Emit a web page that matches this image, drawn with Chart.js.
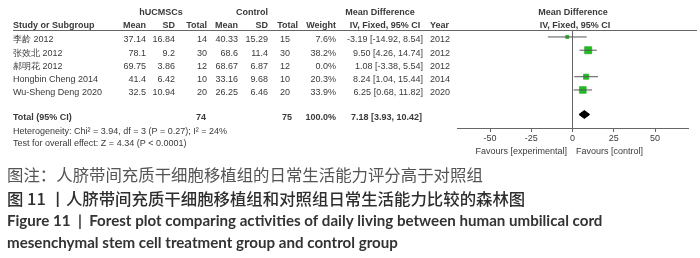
<!DOCTYPE html>
<html>
<head>
<meta charset="utf-8">
<script src="https://cdn.jsdelivr.net/npm/chart.js@4.4.0/dist/chart.umd.min.js"></script>
<style>
  html, body { margin: 0; padding: 0; background: #fff; }
  canvas { display: block; }
</style>
</head>
<body>
<canvas id="forest" width="700" height="258"></canvas>
<script>
// study rows
const studies = ['李龄 2012', '张效北 2012', '郝明花 2012', 'Hongbin Cheng 2014', 'Wu-Sheng Deng 2020'];
const expMean = [37.14, 78.1, 69.75, 41.4, 32.5];
const expSD = [16.84, 9.2, 3.86, 6.42, 10.94];
const expN = [14, 30, 12, 10, 20];
const ctlMean = [40.33, 68.6, 68.67, 33.16, 26.25];
const ctlSD = [15.29, 11.4, 6.87, 9.68, 6.46];
const ctlN = [15, 30, 12, 10, 20];
const weights = [7.6, 38.2, 0.0, 20.3, 33.9];
const meanDiff = [-3.19, 9.50, 1.08, 8.24, 6.25];
const ciLow = [-14.92, 4.26, -3.38, 1.04, 0.68];
const ciHigh = [8.54, 14.74, 5.54, 15.44, 11.82];
const years = [2012, 2012, 2012, 2014, 2020];

// pooled result
const totalExpN = 74;
const totalCtlN = 75;
const totalMD = 7.18;
const totalLow = 3.93;
const totalHigh = 10.42;

const xTicks = [-50, -25, 0, 25, 50];

const TOTAL_ROW = 5.85;
const DIAMOND_H = 0.3;
const GREEN = '#1fbf1f';
const INK = '#3a3a3a';

// CI whiskers and squares, skipping rows with zero weight
const datasets = [];
studies.forEach((s, i) => {
  if (weights[i] <= 0) return;
  datasets.push({
    type: 'line',
    data: [{x: ciLow[i], y: i}, {x: ciHigh[i], y: i}],
    borderColor: '#555',
    borderWidth: 1,
    pointRadius: 0,
    fill: false
  });
});
datasets.push({
  type: 'scatter',
  data: studies.map((s, i) => weights[i] > 0 ? {x: meanDiff[i], y: i} : null).filter(p => p),
  pointStyle: 'rect',
  pointRadius: weights.filter(w => w > 0).map(w => 0.82 * Math.sqrt(w)),
  backgroundColor: GREEN,
  borderColor: '#129a12',
  borderWidth: 0.5
});
// pooled diamond: upper and lower halves filled between
datasets.push({
  type: 'line',
  data: [{x: totalLow, y: TOTAL_ROW}, {x: totalMD, y: TOTAL_ROW - DIAMOND_H}, {x: totalHigh, y: TOTAL_ROW}],
  borderColor: '#000',
  borderWidth: 1,
  pointRadius: 0,
  tension: 0,
  fill: false
});
datasets.push({
  type: 'line',
  data: [{x: totalLow, y: TOTAL_ROW}, {x: totalMD, y: TOTAL_ROW + DIAMOND_H}, {x: totalHigh, y: TOTAL_ROW}],
  borderColor: '#000',
  backgroundColor: '#000',
  borderWidth: 1,
  pointRadius: 0,
  tension: 0,
  fill: '-1'
});

function fitSize(ctx, text, weight, family, width) {
  ctx.font = weight + ' 20px ' + family;
  return 20 * width / ctx.measureText(text).width;
}

const tablePlugin = {
  id: 'forestTable',
  afterDraw(chart) {
    const ctx = chart.ctx;
    const y = chart.scales.y;
    const F = '"Liberation Sans", Arial, sans-serif';
    ctx.save();
    ctx.fillStyle = INK;
    ctx.textBaseline = 'middle';

    const put = (t, x, yy, align, bold) => {
      ctx.font = (bold ? 'bold ' : '') + '9px ' + F;
      ctx.textAlign = align;
      ctx.fillText(t, x, yy);
    };

    // group headers
    put('hUCMSCs', 161, 13, 'center', true);
    put('Control', 252, 13, 'center', true);
    put('Mean Difference', 380, 13, 'center', true);
    put('Mean Difference', 573, 13, 'center', true);
    // column headers
    const hy = 25.5;
    put('Study or Subgroup', 13, hy, 'left', true);
    put('Mean', 146, hy, 'right', true);
    put('SD', 175, hy, 'right', true);
    put('Total', 207, hy, 'right', true);
    put('Mean', 238, hy, 'right', true);
    put('SD', 268, hy, 'right', true);
    put('Total', 298, hy, 'right', true);
    put('Weight', 336, hy, 'right', true);
    put('IV, Fixed, 95% CI', 385, hy, 'center', true);
    put('Year', 430, hy, 'left', true);
    put('IV, Fixed, 95% CI', 575, hy, 'center', true);

    // header rule
    ctx.strokeStyle = '#666';
    ctx.lineWidth = 1;
    ctx.beginPath();
    ctx.moveTo(13, 30.5);
    ctx.lineTo(697, 30.5);
    ctx.stroke();

    // study rows
    studies.forEach((s, i) => {
      const ry = y.getPixelForValue(i) + 3;
      put(s, 13, ry, 'left');
      put(String(expMean[i]), 146, ry, 'right');
      put(String(expSD[i]), 175, ry, 'right');
      put(String(expN[i]), 207, ry, 'right');
      put(String(ctlMean[i]), 238, ry, 'right');
      put(String(ctlSD[i]), 268, ry, 'right');
      put(String(ctlN[i]), 290, ry, 'right');
      put(weights[i].toFixed(1) + '%', 336, ry, 'right');
      put(meanDiff[i].toFixed(2) + ' [' + ciLow[i].toFixed(2) + ', ' + ciHigh[i].toFixed(2) + ']', 423, ry, 'right');
      put(String(years[i]), 430, ry, 'left');
    });

    // total row
    const ty = y.getPixelForValue(TOTAL_ROW) + 3;
    put('Total (95% CI)', 13, ty, 'left', true);
    put(String(totalExpN), 206, ty, 'right', true);
    put(String(totalCtlN), 292, ty, 'right', true);
    put('100.0%', 336, ty, 'right', true);
    put(totalMD.toFixed(2) + ' [' + totalLow.toFixed(2) + ', ' + totalHigh.toFixed(2) + ']', 422, ty, 'right', true);
    put('Heterogeneity: Chi² = 3.94, df = 3 (P = 0.27); I² = 24%', 13, 131.5, 'left');
    put('Test for overall effect: Z = 4.34 (P < 0.0001)', 13, 144, 'left');

    // favours labels
    put('Favours [experimental]', 567, 152, 'right');
    put('Favours [control]', 576, 152, 'left');

    // captions
    const cjk = '"Noto Sans CJK SC", sans-serif';
    const lat = 'Lato, "Open Sans", sans-serif';
    ctx.textAlign = 'left';
    const l1 = '图注：人脐带间充质干细胞移植组的日常生活能力评分高于对照组';
    const l2 = '图 11 丨人脐带间充质干细胞移植组和对照组日常生活能力比较的森林图';
    const s1 = fitSize(ctx, l1, 'normal', cjk, 476);
    ctx.fillStyle = '#555';
    ctx.font = 'normal ' + s1 + 'px ' + cjk;
    ctx.fillText(l1, 7, 175);
    ctx.fillStyle = '#2e2e2e';
    ctx.font = '500 ' + s1 + 'px ' + cjk;
    ctx.fillText(l2, 7, 199);
    const l3 = 'Figure 11  |  Forest plot comparing activities of daily living between human umbilical cord';
    const l4 = 'mesenchymal stem cell treatment group and control group';
    ctx.fillStyle = '#333';
    const s3 = fitSize(ctx, l3, 'bold', lat, 596);
    ctx.font = 'bold ' + s3 + 'px ' + lat;
    ctx.fillText(l3, 7, 221.5);
    ctx.fillText(l4, 7, 243);
    ctx.restore();
  }
};

new Chart(document.getElementById('forest'), {
  type: 'scatter',
  data: { datasets: datasets },
  options: {
    responsive: false,
    animation: false,
    events: [],
    layout: { padding: { left: 457, right: 12, top: 31, bottom: 110 } },
    plugins: { legend: { display: false }, tooltip: { enabled: false } },
    scales: {
      x: {
        type: 'linear',
        position: 'bottom',
        min: -70,
        max: 70,
        afterBuildTicks: (scale) => { scale.ticks = xTicks.map(v => ({value: v})); },
        afterFit: (scale) => { scale.height = 20; },
        grid: {
          color: (c) => (c.tick && c.tick.value === 0) ? '#666' : 'rgba(0,0,0,0)',
          tickColor: '#666',
          tickLength: 4,
          lineWidth: 1
        },
        border: { color: '#666', width: 1 },
        ticks: {
          color: INK,
          padding: 1,
          maxRotation: 0,
          font: { family: '"Liberation Sans", Arial, sans-serif', size: 9 }
        }
      },
      y: {
        type: 'linear',
        display: false,
        reverse: true,
        min: -0.45,
        max: 6.87
      }
    }
  },
  plugins: [tablePlugin]
});
</script>
</body>
</html>
